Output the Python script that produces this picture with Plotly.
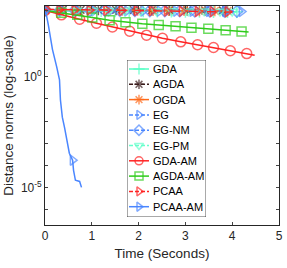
import plotly.graph_objects as go

# ---- data (distance norms vs time in seconds) ----
gda_t = [0, 0.3, 0.6, 0.9, 1.2, 1.5, 1.8, 2.1, 2.4, 2.7, 3.0, 3.3, 3.6, 3.9, 4.1]
gda_y = [1000, 990, 980, 975, 965, 955, 945, 935, 925, 915, 905, 895, 885, 875, 870]

agda_t = [0, 0.38, 0.76, 1.14, 1.52, 1.9, 2.28, 2.66, 3.04, 3.42, 3.8]
agda_y = [1090, 1080, 1070, 1060, 1050, 1040, 1030, 1020, 1010, 1000, 995]

ogda_t = [0, 0.33, 0.66, 0.99, 1.32, 1.65, 1.98, 2.31, 2.64, 2.97, 3.3, 3.63, 3.9]
ogda_y = [1060, 1050, 1040, 1030, 1020, 1010, 1000, 990, 980, 970, 960, 950, 945]

eg_t = [0, 0.35, 0.7, 1.05, 1.4, 1.75, 2.1, 2.45, 2.8, 3.15, 3.5, 3.85, 4.2]
eg_y = [1000, 995, 985, 975, 965, 955, 945, 935, 925, 915, 905, 895, 890]

egnm_t = [0, 0.32, 0.64, 0.96, 1.28, 1.6, 1.92, 2.24, 2.56, 2.88, 3.2, 3.52, 3.84, 4.1]
egnm_y = [1040, 1030, 1020, 1010, 1000, 990, 980, 970, 960, 950, 940, 930, 920, 915]

egpm_t = [0, 0.34, 0.68, 1.02, 1.36, 1.7, 2.04, 2.38, 2.72, 3.06, 3.4, 3.74, 4.0]
egpm_y = [1010, 1000, 990, 980, 970, 960, 950, 940, 930, 920, 910, 900, 895]

gdaam_t = [0, 0.35, 0.74, 1.10, 1.44, 1.81, 2.17, 2.51, 2.90, 3.26, 3.60, 3.96, 4.31, 4.48]
gdaam_y = [1000, 631, 398, 263, 178, 115, 76, 55, 38, 28, 21, 15, 11.2, 9.3]

agdaam_t = [0, 0.35, 0.69, 1.01, 1.38, 1.72, 2.08, 2.43, 2.79, 3.13, 3.49, 3.86, 4.20, 4.35]
agdaam_y = [1000, 794, 631, 479, 363, 295, 251, 219, 191, 166, 148, 126, 112, 105]

pcaa_t = [0, 0.31, 0.63, 0.95, 1.31, 1.64, 1.96, 2.28, 2.60, 2.92, 3.26, 3.58, 3.90, 4.0]
pcaa_y = [1120, 1080, 1060, 1040, 1020, 1000, 980, 960, 940, 920, 900, 880, 860, 850]

pcaaam_t = [0, 0.03, 0.07, 0.10, 0.16, 0.25, 0.31, 0.33, 0.37, 0.42, 0.48, 0.52, 0.59,
            0.61, 0.65, 0.74, 0.78]
pcaaam_y = [1000, 631, 229, 100, 17, 2.8, 0.72, 0.089, 0.015, 0.0048, 0.001, 0.00035,
            0.00017, 0.000059, 0.000021, 0.0000186, 0.00001]

x_ticks = [0, 1, 2, 3, 4, 5]
y_tick_exps = [-6, -5, -4, -3, -2, -1, 0, 1, 2, 3]
y_labeled = {0: "10<sup>0</sup>", -5: "10<sup>-5</sup>"}

# ---- styling ----
series = [
    ("GDA", gda_t, gda_y, "#55ffc4", "solid", "cross-thin-open", None),
    ("AGDA", agda_t, agda_y, "#3a1c1c", "dash", "asterisk-open", None),
    ("OGDA", ogda_t, ogda_y, "#ff6a1a", "solid", "asterisk-open", None),
    ("EG", eg_t, eg_y, "#4a86ff", "dash", "triangle-right-open", None),
    ("EG-NM", egnm_t, egnm_y, "#4a86ff", "dash", "diamond-open", None),
    ("EG-PM", egpm_t, egpm_y, "#66ffcc", "dash", "triangle-down-open", None),
    ("GDA-AM", gdaam_t, gdaam_y, "#ff2222", "solid", "circle-open", "last"),
    ("AGDA-AM", agdaam_t, agdaam_y, "#2ecc1a", "solid", "square-open", "first_last"),
    ("PCAA", pcaa_t, pcaa_y, "#ff2222", "dash", "triangle-right-open", "last"),
    ("PCAA-AM", pcaaam_t, pcaaam_y, "#4a86ff", "solid", "triangle-right-open", "pcaaam"),
]

AX = "#262626"
fig = go.Figure()
for name, t, y, color, dash, sym, rule in series:
    n = len(t)
    msize = 9 if sym != "circle-open" else 10
    sizes = [msize] * n
    if rule == "last":
        sizes[-1] = 0
    elif rule == "first_last":
        sizes[0] = 0
        sizes[-1] = 0
    elif rule == "pcaaam":
        sizes = [msize if i in (0, 12) else 0 for i in range(n)]
    fig.add_trace(go.Scatter(
        x=t, y=y, name=name, mode="lines+markers", showlegend=False,
        line=dict(color=color, width=1.5, dash=dash),
        marker=dict(symbol=sym, size=sizes, color=color, line=dict(width=1.5, color=color)),
    ))

# ---- compact legend box (drawn on an overlay axis in pixel-like units) ----
BOX_W, BOX_H = 79, 157
ROW0, ROW_STEP = 9, 15.3
fig.add_trace(go.Scatter(
    x=[0, BOX_W, BOX_W, 0, 0], y=[0, 0, BOX_H, BOX_H, 0],
    xaxis="x2", yaxis="y2", mode="lines", fill="toself", fillcolor="white",
    line=dict(color=AX, width=0.8), showlegend=False, hoverinfo="skip",
))
for i, (name, t, y, color, dash, sym, rule) in enumerate(series):
    ry = ROW0 + i * ROW_STEP
    msize = 8
    fig.add_trace(go.Scatter(
        x=[2, 12, 22], y=[ry, ry, ry], xaxis="x2", yaxis="y2",
        mode="lines+markers", showlegend=False, hoverinfo="skip",
        line=dict(color=color, width=1.5, dash=dash if dash == "solid" else "4px,2px"),
        marker=dict(symbol=sym, size=[0, msize, 0], color=color,
                    line=dict(width=1.5, color=color)),
    ))
    fig.add_annotation(
        x=23.5, y=ry, xref="x2", yref="y2", text=name, showarrow=False,
        xanchor="left", yanchor="middle",
        font=dict(size=11, color="#000000"),
    )

L, R, T, B = 45, 8, 6, 43
PW, PH = 287 - L - R, 268 - T - B
bx0 = (127 - L) / PW
by1 = (225 - 60) / PH

fig.update_layout(
    width=287, height=268,
    margin=dict(l=L, r=R, t=T, b=B, autoexpand=False),
    paper_bgcolor="white", plot_bgcolor="white",
    font=dict(family="Liberation Sans, Arial, sans-serif", size=11, color=AX),
    showlegend=False,
    xaxis=dict(
        range=[0, 5], tickvals=x_ticks, ticks="inside", ticklen=3,
        showline=True, linecolor=AX, linewidth=0.8, mirror="ticks",
        showgrid=False, zeroline=False, automargin=False,
        tickfont=dict(size=12),
        title=dict(text="Time (Seconds)", font=dict(size=13.5), standoff=6),
    ),
    yaxis=dict(
        type="log", range=[-6.7, 3.2],
        tickvals=[10 ** e for e in y_tick_exps],
        ticktext=[y_labeled.get(e, "") for e in y_tick_exps],
        ticks="inside", ticklen=3,
        showline=True, linecolor=AX, linewidth=0.8, mirror="ticks",
        showgrid=False, zeroline=False, automargin=False,
        tickfont=dict(size=12),
        title=dict(text="Distance norms (log-scale)", font=dict(size=13.5), standoff=4),
    ),
    xaxis2=dict(
        domain=[bx0, bx0 + BOX_W / PW], range=[0, BOX_W], anchor="y2",
        visible=False, fixedrange=True, automargin=False,
    ),
    yaxis2=dict(
        domain=[by1 - BOX_H / PH, by1], range=[BOX_H, 0], anchor="x2",
        visible=False, fixedrange=True, automargin=False,
    ),
)

fig.write_html(
    "out.html",
    config={"displayModeBar": False},
    post_script="document.body.style.margin='0';document.body.style.overflow='hidden';",
)
